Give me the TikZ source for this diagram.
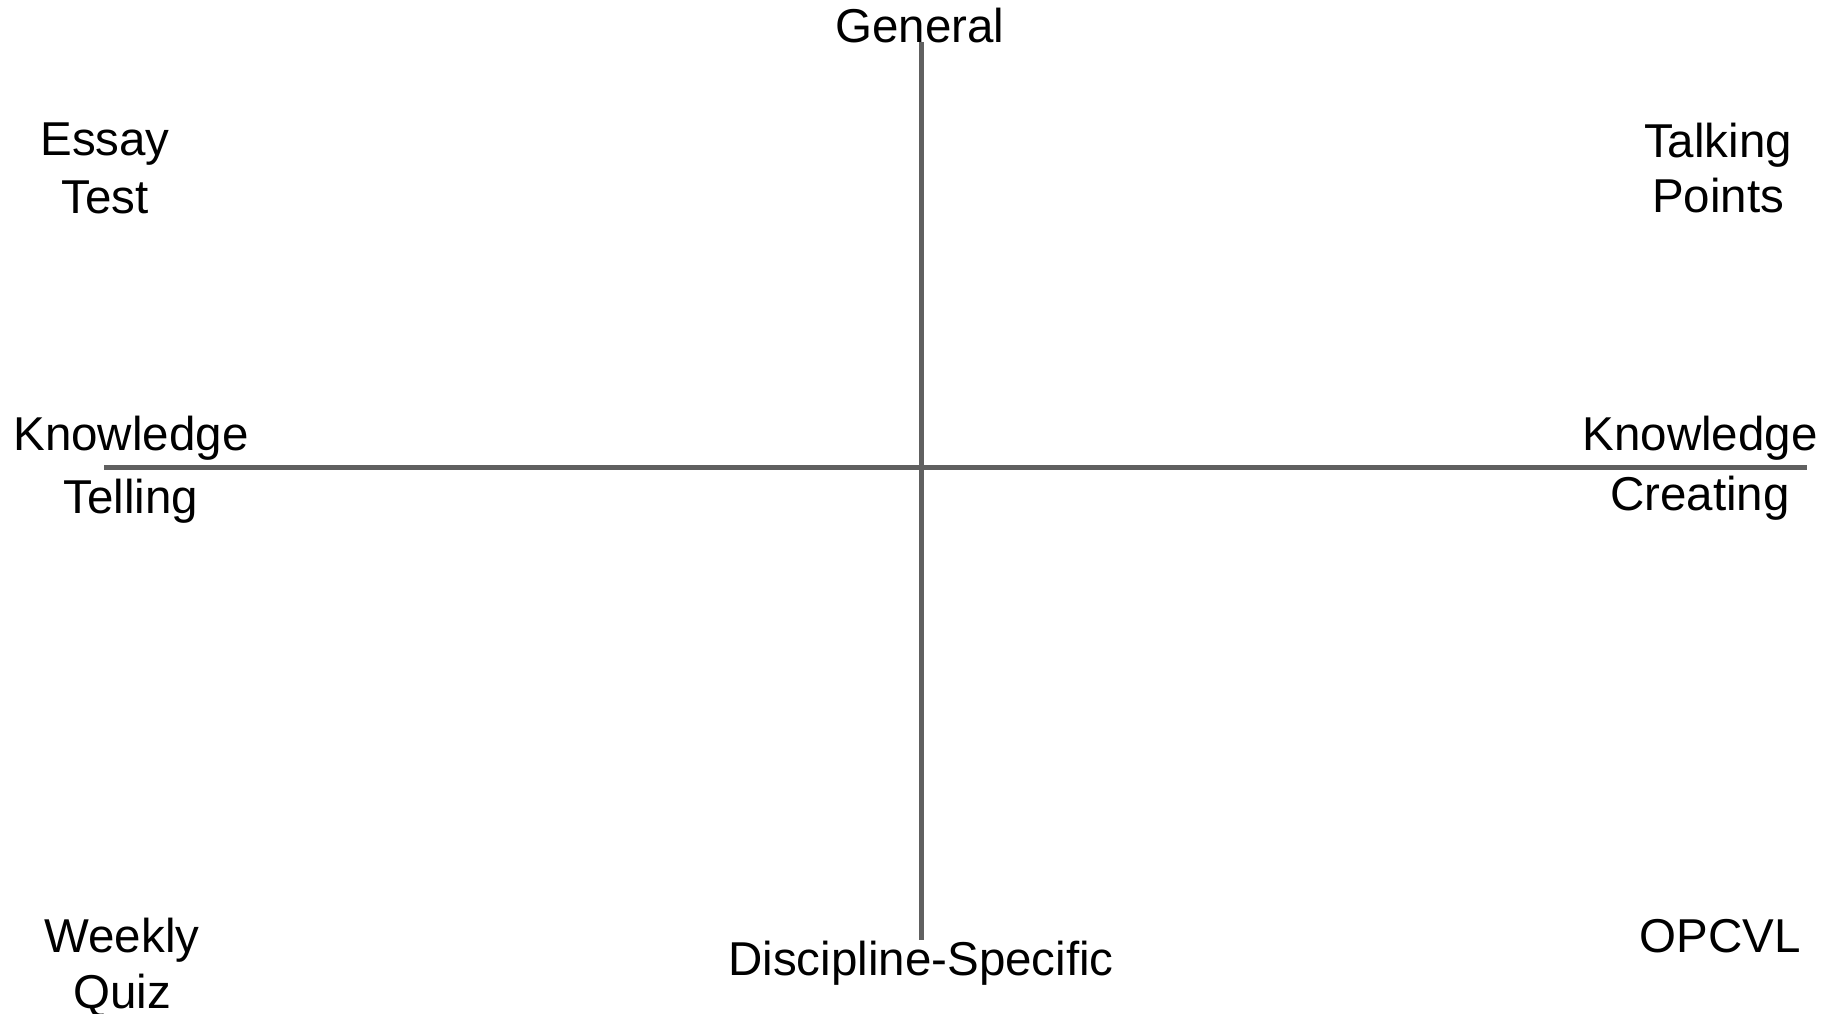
\documentclass[tikz,border=0pt]{standalone}
\usepackage{fontspec}
\setmainfont{Liberation Sans}
\definecolor{axisgray}{HTML}{606060}
\begin{document}
\begin{tikzpicture}[x=1pt,y=-1pt,
  axis/.style={draw=axisgray,line width=5pt},
  lbl/.style={inner sep=0pt,align=center,anchor=base,font=\fontsize{47.5}{58}\selectfont}]
\useasboundingbox (0,0) rectangle (1833,1014);
\coordinate (vtop) at (921,42);
\coordinate (vbot) at (921,940);
\coordinate (hleft) at (104,467.5);
\coordinate (hright) at (1807,467.5);
\draw[axis] (vtop) -- (vbot);
\draw[axis] (hleft) -- (hright);
\node[lbl] (general) at (920,43) {General};
\node[lbl] (discipline) at (921,975) {Discipline-Specific};
\node[lbl] (essay) at (105,213) {Essay\\Test};
\node[lbl] (talking) at (1718,212) {Talking\\[-3pt]Points};
\node[lbl] (ktell) at (131,513) {Knowledge\\[5pt]Telling};
\node[lbl] (kcreate) at (1700,510) {Knowledge\\[2pt]Creating};
\node[lbl] (weekly) at (122,1008) {Weekly\\[-2pt]Quiz};
\node[lbl] (opcvl) at (1720,952) {OPCVL};
\end{tikzpicture}
\end{document}
